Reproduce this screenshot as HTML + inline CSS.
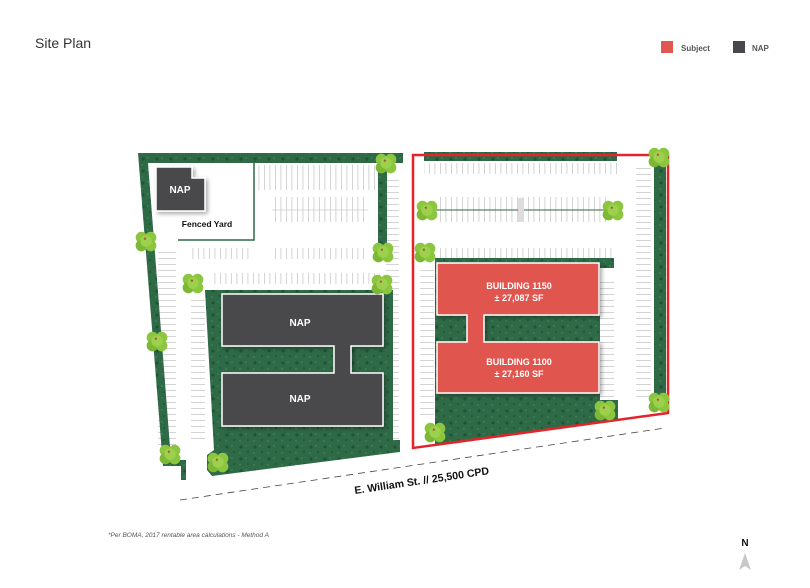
<!DOCTYPE html>
<html><head><meta charset="utf-8"><style>
html,body{margin:0;padding:0;background:#fff;}
svg{display:block;font-family:"Liberation Sans",sans-serif;}
</style></head><body>
<svg width="810" height="588" viewBox="0 0 810 588" xmlns="http://www.w3.org/2000/svg">
<defs>
<pattern id="g" width="14" height="12" patternUnits="userSpaceOnUse">
<rect width="14" height="12" fill="#2f6a47"/>
<circle cx="3" cy="3" r="1.6" fill="#1f5436"/>
<circle cx="10" cy="8" r="1" fill="#1f5436"/>
<circle cx="8" cy="2" r="0.7" fill="#4d8a62"/>
<circle cx="2" cy="9" r="0.7" fill="#4d8a62"/>
</pattern>
<pattern id="vs" width="5.5" height="10" patternUnits="userSpaceOnUse">
<rect x="0" width="0.8" height="10" fill="#c9c9c9"/>
</pattern>
<pattern id="hs" width="10" height="6" patternUnits="userSpaceOnUse">
<rect y="0" width="10" height="0.8" fill="#c9c9c9"/>
</pattern>
<g id="tree" transform="scale(1.15)">
<circle cx="-4" cy="-3" r="5" fill="#8cc63f"/>
<circle cx="4" cy="-3" r="5" fill="#8cc63f"/>
<circle cx="-4" cy="4" r="5" fill="#7db736"/>
<circle cx="4" cy="4" r="5" fill="#8cc63f"/>
<circle cx="0" cy="0" r="5" fill="#9bd14c"/>
<circle cx="-1" cy="-2" r="1" fill="#b5582e"/>
</g>
<filter id="sh" x="-10%" y="-10%" width="130%" height="130%"><feDropShadow dx="2" dy="2" stdDeviation="2" flood-color="#000" flood-opacity="0.35"/></filter>
</defs>

<text x="35" y="48" font-size="14" fill="#333">Site Plan</text>
<rect x="661" y="41" width="12" height="12" fill="#e0574f"/>
<text x="681" y="51" font-size="8" font-weight="bold" fill="#555">Subject</text>
<rect x="733" y="41" width="12" height="12" fill="#48484c"/>
<text x="752" y="51" font-size="8" font-weight="bold" fill="#555">NAP</text>

<rect x="258" y="165" width="118" height="25" fill="url(#vs)"/>
<rect x="272" y="197" width="96" height="25" fill="url(#vs)"/>
<line x1="272" y1="210" x2="368" y2="210" stroke="#ccc" stroke-width="0.8"/>
<rect x="188" y="248" width="62" height="11" fill="url(#vs)"/>
<rect x="272" y="248" width="96" height="11" fill="url(#vs)"/>
<rect x="210" y="273" width="170" height="11" fill="url(#vs)"/>
<rect x="158" y="250" width="18" height="195" fill="url(#hs)"/>
<rect x="191" y="298" width="14" height="145" fill="url(#hs)"/>
<rect x="386" y="180" width="13" height="260" fill="url(#hs)"/>

<polygon points="138,153 403,153 403,163 148,163 171,460 186,460 186,480 181,480 181,466 163,466" fill="url(#g)"/>
<rect x="378" y="153" width="9" height="105" fill="url(#g)"/>
<polygon points="205,290 393,290 393,440 400,440 400,452 212,476 207,470 207,455 214,450" fill="url(#g)"/>
<polyline points="254,163 254,240 178,240" fill="none" stroke="#2f6a47" stroke-width="1.5"/>

<path d="M156,167 H192 V178 H205 V211 H156 Z" fill="#48484c" stroke="#fff" stroke-width="1.5" filter="url(#sh)"/>
<text x="180" y="193" font-size="10" font-weight="bold" fill="#fff" text-anchor="middle">NAP</text>
<text x="207" y="227" font-size="8.5" font-weight="bold" fill="#111" text-anchor="middle">Fenced Yard</text>
<path d="M222,294 H383 V346 H351 V373 H383 V426 H222 V373 H334 V346 H222 Z" fill="#48484c" stroke="#fff" stroke-width="1.5" filter="url(#sh)"/>
<text x="300" y="326" font-size="10" font-weight="bold" fill="#fff" text-anchor="middle">NAP</text>
<text x="300" y="402" font-size="10" font-weight="bold" fill="#fff" text-anchor="middle">NAP</text>

<rect x="424" y="163" width="194" height="11" fill="url(#vs)"/>
<rect x="436" y="197" width="170" height="25" fill="url(#vs)"/>
<line x1="436" y1="210" x2="606" y2="210" stroke="#2f6a47" stroke-width="1"/>
<rect x="518" y="198" width="6" height="24" fill="#ddd"/>
<rect x="436" y="248" width="176" height="11" fill="url(#vs)"/>
<rect x="420" y="265" width="14" height="155" fill="url(#hs)"/>
<rect x="600" y="280" width="14" height="120" fill="url(#hs)"/>
<rect x="636" y="165" width="15" height="235" fill="url(#hs)"/>

<rect x="424" y="152" width="193" height="9" fill="url(#g)"/>
<rect x="654" y="160" width="12" height="245" fill="url(#g)"/>
<polygon points="435,258 614,258 614,268 600,268 600,400 618,400 618,420 435,446" fill="url(#g)"/>

<path d="M437,263 H599 V315 H484 V342 H599 V393 H437 V342 H467 V315 H437 Z" fill="#e0574f" stroke="#fff" stroke-width="1.5" filter="url(#sh)"/>
<text x="519" y="289" font-size="9" font-weight="bold" fill="#fff" text-anchor="middle">BUILDING 1150</text>
<text x="519" y="301" font-size="9" font-weight="bold" fill="#fff" text-anchor="middle">± 27,087 SF</text>
<text x="519" y="365" font-size="9" font-weight="bold" fill="#fff" text-anchor="middle">BUILDING 1100</text>
<text x="519" y="377" font-size="9" font-weight="bold" fill="#fff" text-anchor="middle">± 27,160 SF</text>

<polygon points="413,155 668,155 668,413 413,448" fill="none" stroke="#e3242b" stroke-width="2.5"/>

<use href="#tree" x="386" y="163"/><use href="#tree" x="146" y="241"/>
<use href="#tree" x="383" y="252"/><use href="#tree" x="193" y="283"/>
<use href="#tree" x="382" y="284"/><use href="#tree" x="157" y="341"/>
<use href="#tree" x="170" y="454"/><use href="#tree" x="218" y="462"/>
<use href="#tree" x="659" y="157"/><use href="#tree" x="427" y="210"/>
<use href="#tree" x="613" y="210"/><use href="#tree" x="425" y="252"/>
<use href="#tree" x="659" y="402"/><use href="#tree" x="605" y="410"/>
<use href="#tree" x="435" y="432"/>

<line x1="180" y1="500" x2="665" y2="428" stroke="#444" stroke-width="0.8" stroke-dasharray="7,5"/>
<text x="355" y="494" font-size="10.6" font-weight="bold" fill="#111" transform="rotate(-8.4 355 494)">E. William St. // 25,500 CPD</text>

<text x="108" y="537" font-size="6.5" font-style="italic" fill="#555">*Per BOMA, 2017 rentable area calculations - Method A</text>
<text x="745" y="546" font-size="10" font-weight="bold" fill="#111" text-anchor="middle">N</text>
<polygon points="745,553 751,570 745,566 739,570" fill="#c8c8c8"/>
</svg>
</body></html>
